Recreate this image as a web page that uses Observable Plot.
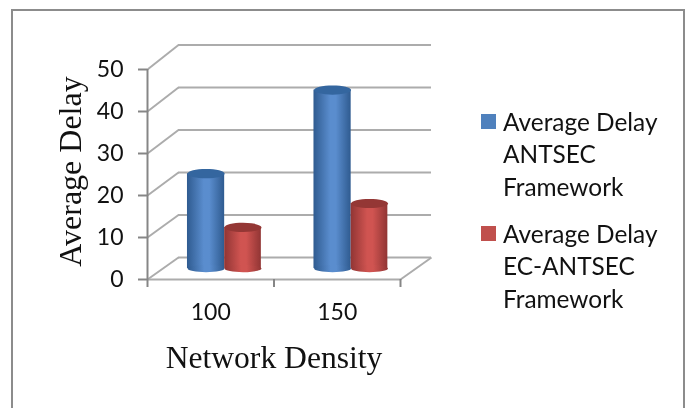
<!DOCTYPE html>
<html>
<head>
<meta charset="utf-8">
<script src="https://cdn.jsdelivr.net/npm/d3@7"></script>
<script src="https://cdn.jsdelivr.net/npm/@observablehq/plot@0.6"></script>
<style>
html,body{margin:0;padding:0;background:#fff;overflow:hidden}
#wrap{position:relative;width:686px;height:408px;overflow:hidden;filter:blur(0.45px)}
#wrap svg{display:block;position:absolute;left:0;top:0;background:transparent}
#border{position:absolute;left:11px;top:9px;width:670px;height:420px;border:2px solid #8c8c8c}
.lg{position:absolute;left:481px;font:24.4px/32.3px Lato,sans-serif;color:#111;padding-left:22px;white-space:nowrap}
.lg i{position:absolute;left:0;top:8px;width:15px;height:15px}
</style>
</head>
<body>
<div id="wrap"><div id="border"></div></div>
<script>
const categories = ["100", "150"];
const seriesNames = [
  ["Average Delay", "ANTSEC", "Framework"],
  ["Average Delay", "EC-ANTSEC", "Framework"]
];
const antsec = [22.6, 42.5];
const ecAntsec = [9.8, 15.5];
const yTicks = [0, 10, 20, 30, 40, 50];
const xEdges = [0, 1, 2];
const yTitle = "Average Delay";
const xTitle = "Network Density";

// 3D projection of the chart floor, expressed in scale units
const depthX = 0.245;
const backY = v => 5.24 + 1.012 * v;
const floorLift = 2.6;

const bars = categories.flatMap((c, i) => [
  {x1: i + 0.316, x2: i + 0.61, v: antsec[i], body: "url(#cylBlue)", cap: "#34669f"},
  {x1: i + 0.61, x2: i + 0.9, v: ecAntsec[i], body: "url(#cylRed)", cap: "#943735"}
]);

function ellipse(rx, ry) {
  const k = 0.5523;
  return {draw(c) {
    c.moveTo(-rx, 0);
    c.bezierCurveTo(-rx, -ry * k, -rx * k, -ry, 0, -ry);
    c.bezierCurveTo(rx * k, -ry, rx, -ry * k, rx, 0);
    c.bezierCurveTo(rx, ry * k, rx * k, ry, 0, ry);
    c.bezierCurveTo(-rx * k, ry, -rx, ry * k, -rx, 0);
    c.closePath();
  }};
}

function gradient(defs, id, edge, mid) {
  const g = defs.append("linearGradient").attr("id", id);
  g.append("stop").attr("offset", "0").attr("stop-color", edge);
  g.append("stop").attr("offset", "0.45").attr("stop-color", mid);
  g.append("stop").attr("offset", "0.6").attr("stop-color", mid);
  g.append("stop").attr("offset", "1").attr("stop-color", edge);
}

const defsMark = () => {
  const defs = d3.create("svg:defs");
  gradient(defs, "cylBlue", "#2f5b90", "#5a8dce");
  gradient(defs, "cylRed", "#913534", "#d05451");
  return defs.node();
};

const gridColor = "#acacac";
const axisColor = "#868686";
const capShape = ellipse(18.5, 4.6);

const chart = Plot.plot({
  width: 686,
  height: 408,
  marginLeft: 147,
  marginRight: 286,
  marginTop: 69,
  marginBottom: 129,
  style: {background: "transparent"},
  x: {type: "linear", domain: [0, 2], range: [147, 400], axis: null},
  y: {type: "linear", domain: [0, 50], range: [279, 69]},
  marks: [
    defsMark,
    // back wall and floor
    Plot.ruleY(yTicks, {y: backY, x1: depthX, x2: 2 + depthX, stroke: gridColor, strokeWidth: 2}),
    Plot.link(yTicks, {x1: 0, y1: d => d, x2: depthX, y2: backY, stroke: gridColor, strokeWidth: 2}),
    Plot.link([0], {x1: 2, y1: 0, x2: 2 + depthX, y2: backY, stroke: gridColor, strokeWidth: 2}),
    Plot.ruleY([0], {x1: 0, x2: 2, stroke: gridColor, strokeWidth: 2}),
    // cylinders
    Plot.rect(bars, {x1: "x1", x2: "x2", y1: floorLift, y2: d => d.v + floorLift, fill: "body"}),
    Plot.dot(bars, {x: d => (d.x1 + d.x2) / 2, y: floorLift, symbol: ellipse(18.5, 3.6), fill: "body", r: 10}),
    Plot.dot(bars, {x: d => (d.x1 + d.x2) / 2, y: d => d.v + floorLift, symbol: capShape, fill: "cap", r: 10}),
    // axes
    Plot.ruleX([0], {y1: 0, y2: 50, stroke: axisColor, strokeWidth: 2}),
    Plot.ruleX(xEdges, {y1: 0, y2: -1.9, stroke: axisColor, strokeWidth: 2}),
    Plot.axisY({
      ticks: yTicks, tickSize: 9, tickPadding: 15, label: null,
      stroke: axisColor, strokeWidth: 2,
      fontSize: 23, fontFamily: "Lato, sans-serif", fill: "#111"
    }),
    Plot.text(categories, {
      x: (d, i) => i + 0.5, y: -8,
      text: d => d, fontSize: 23, fontFamily: "Lato, sans-serif", fill: "#111"
    }),
    Plot.text([xTitle], {
      x: 1.0, y: -18.6, text: d => d,
      fontSize: 31.6, fontFamily: "Liberation Serif, serif", fill: "#111"
    }),
    Plot.text([yTitle], {
      frameAnchor: "left", textAnchor: "middle", dx: -77, dy: -3, rotate: -90, text: d => d,
      fontSize: 32, fontFamily: "Liberation Serif, serif", fill: "#111"
    })
  ]
});

const wrap = document.getElementById("wrap");
wrap.appendChild(chart);

const legendColors = ["#4f81bd", "#c0504d"];
const legendTops = [106, 218];
d3.select(wrap).selectAll("div.lg").data(seriesNames).join("div")
  .attr("class", "lg")
  .style("top", (d, i) => legendTops[i] + "px")
  .html((d, i) => `<i style="background:${legendColors[i]}"></i>` + d.join("<br>"));
</script>
</body>
</html>
